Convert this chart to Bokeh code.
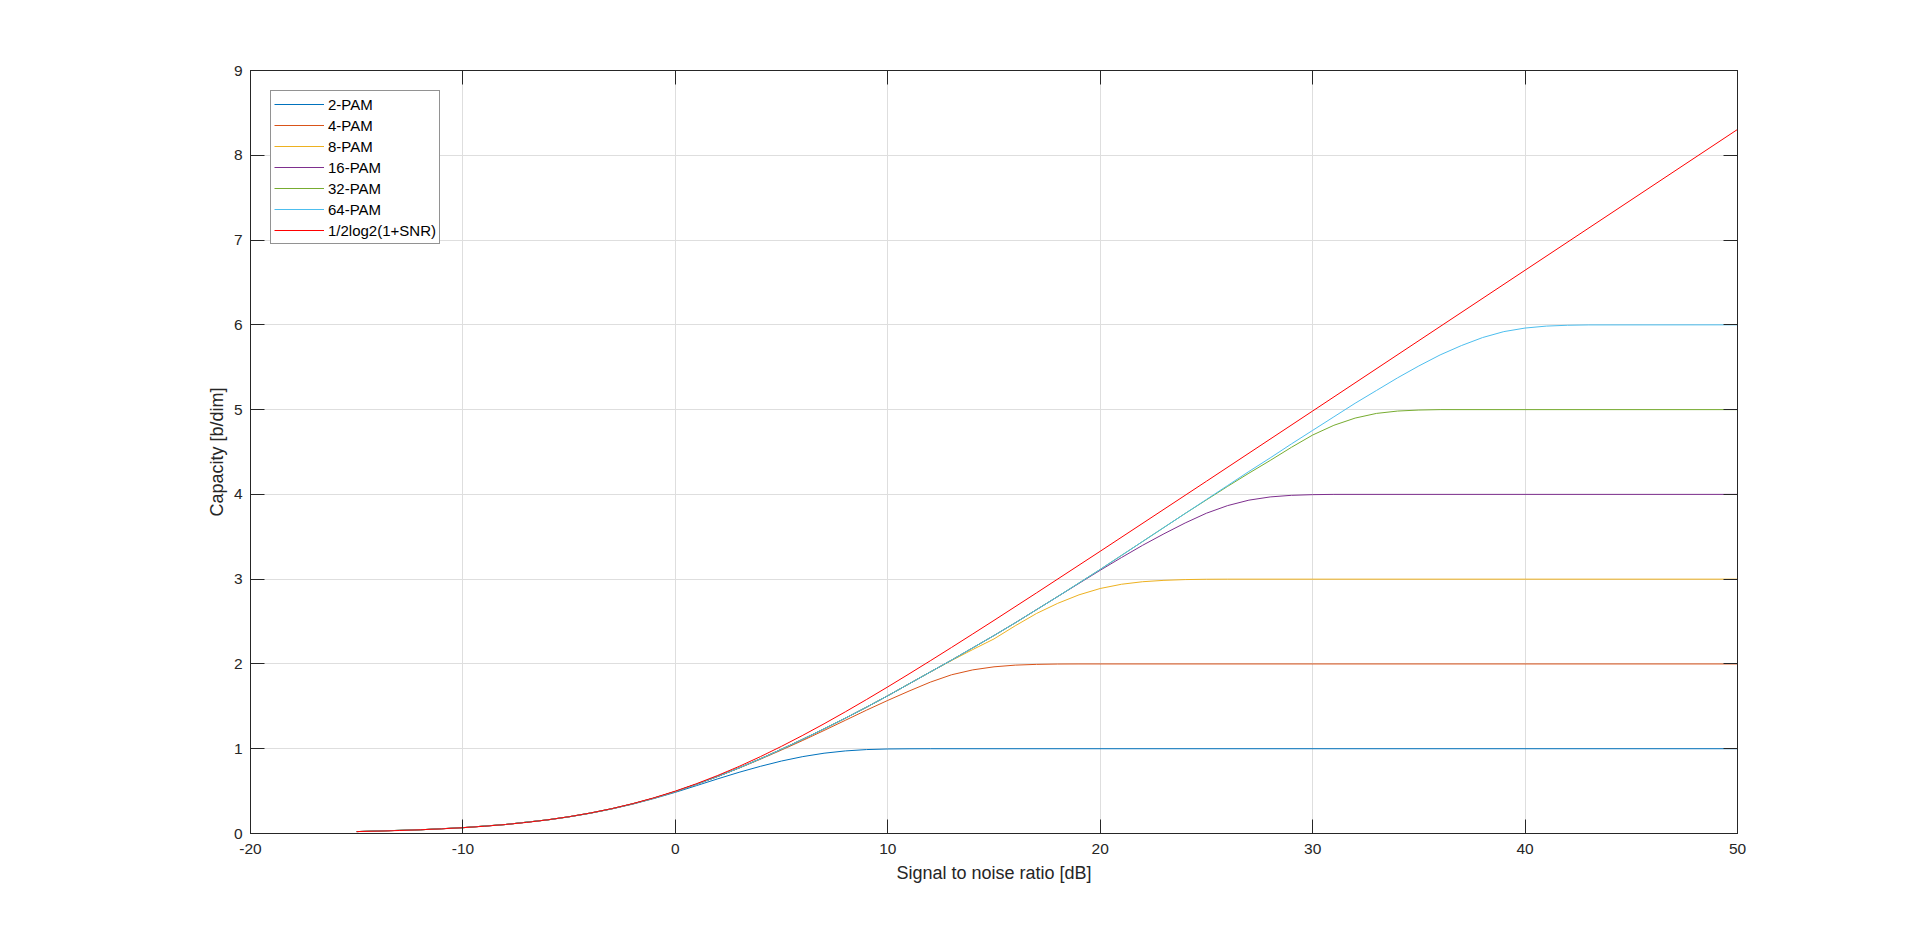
from bokeh.plotting import figure
from bokeh.models import LinearAxis, FixedTicker, Range1d, CustomJSTickFormatter
from bokeh.embed import file_html
from bokeh.resources import INLINE

# ---------------- data ----------------
x_ticks = [-20, -10, 0, 10, 20, 30, 40, 50]
y_ticks = [0, 1, 2, 3, 4, 5, 6, 7, 8, 9]

labels = ["2-PAM", "4-PAM", "8-PAM", "16-PAM", "32-PAM", "64-PAM", "1/2log2(1+SNR)"]
colors = ["#0072BD", "#D95319", "#EDB120", "#7E2F8E", "#77AC30", "#4DBEEE", "#FF0000"]

pam2_x = [-15, -12, -10, -8, -6, -5, -4, -3, -2, -1, 0, 1, 2, 3, 4, 5, 6, 7, 8, 9, 10, 11, 12, 50]
pam2_y = [0.0224, 0.0440, 0.0685, 0.1055, 0.1605, 0.196, 0.239, 0.289, 0.347, 0.413, 0.486,
          0.565, 0.645, 0.722, 0.792, 0.855, 0.907, 0.947, 0.974, 0.990, 0.997, 0.9993, 1.0, 1.0]

pam4_x = [-15, -12, -10, -8, -6, -5, -4, -3, -2, -1, 0, 1, 2, 3, 4, 5, 6, 7, 8, 9, 10,
          11, 12, 13, 14, 15, 16, 17, 18, 19, 50]
pam4_y = [0.0225, 0.0441, 0.0688, 0.1060, 0.1615, 0.1978, 0.2410, 0.2915, 0.3505, 0.418, 0.495,
          0.581, 0.672, 0.772, 0.876, 0.985, 1.098, 1.215, 1.335, 1.455, 1.57,
          1.68, 1.785, 1.872, 1.93, 1.966, 1.986, 1.995, 1.999, 2.0, 2.0]

pam8_x = [-15, -12, -10, -8, -6, -5, -4, -3, -2, -1, 0, 1, 2, 3, 4, 5, 6, 7, 8, 9, 10,
          11, 12, 13, 14, 15, 16, 17, 18, 19, 20, 21, 22, 23, 24, 25, 26, 50]
pam8_y = [0.0225, 0.0441, 0.0688, 0.1060, 0.1615, 0.1978, 0.2410, 0.2915, 0.3505, 0.418, 0.495,
          0.582, 0.674, 0.774, 0.881, 0.994, 1.112, 1.234, 1.36, 1.49, 1.625,
          1.765, 1.905, 2.04, 2.17, 2.295, 2.45, 2.595, 2.715, 2.815, 2.89, 2.94, 2.97,
          2.986, 2.995, 2.999, 3.0, 3.0]

pam16_x = [-15, -12, -10, -8, -6, -5, -4, -3, -2, -1, 0, 1, 2, 3, 4, 5, 6, 7, 8, 9, 10,
           11, 12, 13, 14, 15, 16, 17, 18, 19, 20, 21, 22, 23, 24, 25, 26, 27, 28, 29, 30, 31, 50]
pam16_y = [0.0225, 0.0441, 0.0688, 0.1060, 0.1615, 0.1978, 0.2410, 0.2915, 0.3505, 0.418, 0.495,
           0.582, 0.674, 0.774, 0.881, 0.994, 1.112, 1.234, 1.36, 1.49, 1.625,
           1.765, 1.905, 2.045, 2.19, 2.335, 2.485, 2.64, 2.795, 2.95, 3.105, 3.255, 3.40,
           3.535, 3.663, 3.778, 3.868, 3.932, 3.970, 3.989, 3.997, 4.0, 4.0]

pam32_x = [-15, -12, -10, -8, -6, -5, -4, -3, -2, -1, 0, 1, 2, 3, 4, 5, 6, 7, 8, 9, 10,
           11, 12, 13, 14, 15, 16, 17, 18, 19, 20, 21, 22, 23, 24, 25, 26, 27, 28, 29, 30,
           31, 32, 33, 34, 35, 36, 50]
pam32_y = [0.0225, 0.0441, 0.0688, 0.1060, 0.1615, 0.1978, 0.2410, 0.2915, 0.3505, 0.418, 0.495,
           0.582, 0.674, 0.774, 0.881, 0.994, 1.112, 1.234, 1.36, 1.49, 1.625,
           1.765, 1.905, 2.045, 2.19, 2.335, 2.485, 2.64, 2.795, 2.955, 3.115, 3.28, 3.445,
           3.61, 3.775, 3.935, 4.095, 4.25, 4.40, 4.555, 4.70,
           4.815, 4.90, 4.955, 4.983, 4.995, 5.0, 5.0]

pam64_x = [-15, -12, -10, -8, -6, -5, -4, -3, -2, -1, 0, 1, 2, 3, 4, 5, 6, 7, 8, 9, 10,
           11, 12, 13, 14, 15, 16, 17, 18, 19, 20, 21, 22, 23, 24, 25, 26, 27, 28, 29, 30,
           31, 32, 33, 34, 35, 36, 37, 38, 39, 40, 41, 42, 43, 50]
pam64_y = [0.0225, 0.0441, 0.0688, 0.1060, 0.1615, 0.1978, 0.2410, 0.2915, 0.3505, 0.418, 0.495,
           0.582, 0.674, 0.774, 0.881, 0.994, 1.112, 1.234, 1.36, 1.49, 1.625,
           1.765, 1.905, 2.045, 2.19, 2.335, 2.485, 2.64, 2.795, 2.955, 3.115, 3.28, 3.445,
           3.61, 3.775, 3.94, 4.105, 4.27, 4.43, 4.595, 4.755,
           4.915, 5.075, 5.225, 5.375, 5.515, 5.645, 5.755, 5.85, 5.92, 5.962, 5.985, 5.995,
           5.999, 6.0]

shannon_x = [-15, -14, -13, -12, -11, -10, -9, -8, -7, -6, -5, -4, -3, -2, -1, 0, 1, 2, 3, 4, 5,
             6, 7, 8, 9, 10, 11, 12, 13, 14, 15, 17, 20, 25, 30, 40, 50]
shannon_y = [0.0225, 0.0282, 0.0353, 0.0441, 0.0551, 0.0688, 0.0855, 0.1061, 0.1312, 0.1617,
             0.1982, 0.2418, 0.2930, 0.3529, 0.4217, 0.5, 0.5878, 0.6851, 0.7914, 0.9061, 1.0287,
             1.1583, 1.2939, 1.4349, 1.5804, 1.7297, 1.8822, 2.0373, 2.1945, 2.3536, 2.5139,
             2.8379, 3.3291, 4.1547, 4.9836, 6.6439, 8.3048]

series_x = [pam2_x, pam4_x, pam8_x, pam16_x, pam32_x, pam64_x, shannon_x]
series_y = [pam2_y, pam4_y, pam8_y, pam16_y, pam32_y, pam64_y, shannon_y]

# ---------------- figure ----------------
FONT = "Liberation Sans"
AX = "#262626"

p = figure(frame_width=1487, frame_height=763,
           x_range=Range1d(-20, 50), y_range=Range1d(0, 9),
           output_backend="svg", toolbar_location=None,
           min_border_left=250, min_border_right=170,
           min_border_top=70, min_border_bottom=94,
           background_fill_color="white", border_fill_color="white")
p.outline_line_color = AX
p.outline_line_width = 1

for xs, ys, c, lab in zip(series_x, series_y, colors, labels):
    p.line(xs, ys, line_color=c, line_width=1, legend_label=lab)

p.add_layout(LinearAxis(), "above")
p.add_layout(LinearAxis(), "right")

fmt = "return tick.toString();"
for ax in p.xaxis:
    ax.ticker = FixedTicker(ticks=x_ticks)
    ax.formatter = CustomJSTickFormatter(code=fmt)
for ax in p.yaxis:
    ax.ticker = FixedTicker(ticks=y_ticks)
    ax.formatter = CustomJSTickFormatter(code=fmt)

for ax in p.xaxis + p.yaxis:
    ax.axis_line_color = AX
    ax.major_tick_line_color = AX
    ax.major_tick_in = 14
    ax.major_tick_out = 0
    ax.minor_tick_line_color = None
    ax.major_label_text_font = FONT
    ax.major_label_text_font_size = "15.5px"
    ax.major_label_text_color = AX
    ax.axis_label_text_font = FONT
    ax.axis_label_text_font_size = "18px"
    ax.axis_label_text_font_style = "normal"
    ax.axis_label_text_color = AX

p.xaxis[0].major_label_text_color = None
p.yaxis[1].major_label_text_color = None

p.below[0].axis_label = "Signal to noise ratio [dB]"
p.below[0].major_label_standoff = 10
p.below[0].axis_label_standoff = 6
p.left[0].axis_label = "Capacity [b/dim]"
p.left[0].major_label_standoff = 8
p.left[0].axis_label_standoff = 4

p.xgrid.ticker = FixedTicker(ticks=x_ticks)
p.ygrid.ticker = FixedTicker(ticks=y_ticks)
for g in (p.xgrid[0], p.ygrid[0]):
    g.grid_line_color = "#dedede"
    g.grid_line_width = 1

lg = p.legend[0]
lg.location = "top_left"
lg.margin = 20
lg.border_line_color = AX
lg.border_line_width = 1
lg.background_fill_color = "white"
lg.background_fill_alpha = 1
lg.label_text_font = FONT
lg.label_text_font_size = "15px"
lg.label_text_color = "#000000"
lg.glyph_width = 50
lg.glyph_height = 20
lg.label_height = 20
lg.label_standoff = 4
lg.spacing = 1
lg.padding = 3

open("out.html", "w").write(file_html(p, INLINE))
